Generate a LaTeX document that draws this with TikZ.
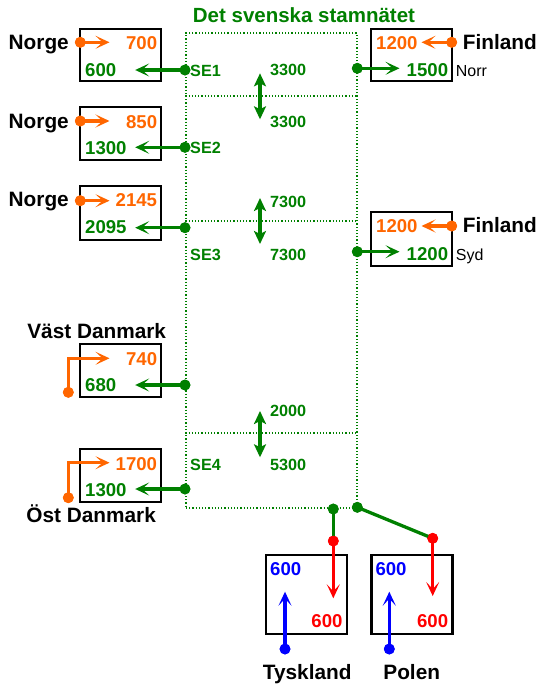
\documentclass[tikz,border=0pt]{standalone}
\usepackage{fontspec}
\setmainfont{Liberation Sans}
\usetikzlibrary{arrows.meta}
\definecolor{or}{RGB}{255,102,0}
\definecolor{gr}{RGB}{0,128,0}
\definecolor{rd}{RGB}{255,0,0}
\definecolor{bl}{RGB}{0,0,255}
\begin{document}
\begin{tikzpicture}[x=1pt,y=-1pt,
  box/.style={draw=black,line width=2.3pt,inner sep=0pt},
  num/.style={font=\fontsize{18.6}{20}\selectfont\bfseries,inner sep=0pt},
  lbl/.style={font=\fontsize{20.8}{22}\selectfont\bfseries,inner sep=0pt,text=black},
  sml/.style={font=\fontsize{16.2}{18}\selectfont\bfseries,inner sep=0pt,text=gr},
  reg/.style={font=\fontsize{16}{18}\selectfont,inner sep=0pt,text=black},
  dotn/.style={circle,fill=#1,inner sep=0pt,minimum size=11pt},
  tip/.style={-{Stealth[length=14pt,width=13pt,inset=7pt]}},
  conn/.style={line width=3.3pt,draw=#1},
  darr/.style={line width=3.3pt,draw=gr,{Stealth[length=13pt,width=12pt,inset=3pt]}-{Stealth[length=13pt,width=12pt,inset=3pt]}}
]
\useasboundingbox (0,0) rectangle (538,686);

% grid
\node[draw=gr,line width=1.2pt,dash pattern=on 1.2pt off 2pt,minimum width=171pt,minimum height=475pt,inner sep=0pt] (grid) at (271.5,270.5) {};
\foreach \yy in {96,221,433}{
  \draw[gr,line width=1.2pt,dash pattern=on 1.2pt off 2pt] (grid.west |- 0,\yy) -- (grid.east |- 0,\yy);
}
\node[font=\fontsize{20.5}{22}\selectfont\bfseries,text=gr,inner sep=0pt,anchor=base] (title) at (304,22.7) {Det svenska stamnätet};

% left boxes
\node[box,minimum width=81pt,minimum height=52pt] (b1) at (120.6,55) {};
\node[box,minimum width=81pt,minimum height=53pt] (b2) at (120.6,133.5) {};
\node[box,minimum width=81pt,minimum height=54pt] (b3) at (120.6,212.8) {};
\node[box,minimum width=81pt,minimum height=53pt] (b4) at (120.6,370.3) {};
\node[box,minimum width=81pt,minimum height=53pt] (b5) at (120.6,475.6) {};
% right boxes
\node[box,minimum width=81pt,minimum height=52pt] (fn) at (411.8,55) {};
\node[box,minimum width=81pt,minimum height=54pt] (fs) at (411.8,239.2) {};
% bottom boxes
\node[box,minimum width=81pt,minimum height=79pt] (ty) at (306.6,594.5) {};
\node[box,minimum width=81pt,minimum height=79pt] (po) at (412,594.5) {};

% labels
\node[lbl,anchor=base east] (no1) at (69,49.3) {Norge};
\node[lbl,anchor=base east] (no2) at (69,128.3) {Norge};
\node[lbl,anchor=base east] (no3) at (69,206.7) {Norge};
\node[lbl,anchor=base] (vdk) at (96.7,338.3) {Väst Danmark};
\node[lbl,anchor=base] (odk) at (91.2,522.3) {Öst Danmark};
\node[lbl,anchor=base west] (fi1) at (462.7,49.3) {Finland};
\node[lbl,anchor=base west] (fi2) at (462.7,232.7) {Finland};
\node[lbl,anchor=base] (tyl) at (307.2,679.3) {Tyskland};
\node[lbl,anchor=base] (pol) at (411.7,679.3) {Polen};
\node[reg,anchor=base west] (norr) at (455.7,76) {Norr};
\node[reg,anchor=base west] (syd) at (455.7,260) {Syd};

% numbers in boxes
\node[num,text=or,anchor=base east] (n700) at (157.3,49) {700};
\node[num,text=gr,anchor=base west] (n600) at (85,76) {600};
\node[num,text=or,anchor=base east] (n850) at (157.3,128.3) {850};
\node[num,text=gr,anchor=base west] (n1300) at (85,154) {1300};
\node[num,text=or,anchor=base east] (n2145) at (157.3,206.7) {2145};
\node[num,text=gr,anchor=base west] (n2095) at (85,233.3) {2095};
\node[num,text=or,anchor=base east] (n740) at (157.3,365) {740};
\node[num,text=gr,anchor=base west] (n680) at (85,391.7) {680};
\node[num,text=or,anchor=base east] (n1700) at (157.3,470) {1700};
\node[num,text=gr,anchor=base west] (n1300b) at (85,496) {1300};
\node[num,text=or,anchor=base west] (f1o) at (376,49.3) {1200};
\node[num,text=gr,anchor=base east] (f1g) at (448.3,76.7) {1500};
\node[num,text=or,anchor=base west] (f2o) at (376,232.7) {1200};
\node[num,text=gr,anchor=base east] (f2g) at (448.3,260) {1200};
\node[num,text=bl,anchor=base west] (tyb) at (270,575) {600};
\node[num,text=rd,anchor=base east] (tyr) at (342.7,627.7) {600};
\node[num,text=bl,anchor=base west] (pob) at (375.3,575) {600};
\node[num,text=rd,anchor=base east] (por) at (448.3,627.7) {600};

% SE labels and flows
\node[sml,anchor=base west] (se1) at (190,76) {SE1};
\node[sml,anchor=base west] (se2) at (190,153.3) {SE2};
\node[sml,anchor=base west] (se3) at (190,260) {SE3};
\node[sml,anchor=base west] (se4) at (190,470.7) {SE4};
\node[sml,anchor=base west] (c1) at (270,75.7) {3300};
\node[sml,anchor=base west] (c2) at (270,127.3) {3300};
\node[sml,anchor=base west] (c3) at (270,207.3) {7300};
\node[sml,anchor=base west] (c4) at (270,260) {7300};
\node[sml,anchor=base west] (c5) at (270,416.7) {2000};
\node[sml,anchor=base west] (c6) at (270,470) {5300};

% double arrows
\coordinate (d1a) at (260,73.3); \coordinate (d1b) at (260,119.3);
\coordinate (d2a) at (260,198); \coordinate (d2b) at (260,244);
\coordinate (d3a) at (260,411); \coordinate (d3b) at (260,457.3);
\draw[darr] (d1a) -- (d1b);
\draw[darr] (d2a) -- (d2b);
\draw[darr] (d3a) -- (d3b);

% tip coordinates
\coordinate (t1) at (109.5,42.3);
\coordinate (t2) at (109.5,121);
\coordinate (t3) at (109.5,200.7);
\coordinate (t4) at (109.5,358.3);
\coordinate (t5) at (109.5,462.7);
\coordinate (g1) at (135.2,70);
\coordinate (g2) at (135.2,147.3);
\coordinate (g3) at (135.2,227.7);
\coordinate (g4) at (135.2,385);
\coordinate (g5) at (135.2,489);
\coordinate (ft1) at (421.5,42.3);
\coordinate (ft2) at (421.5,226);
\coordinate (fg1) at (399.5,68.3);
\coordinate (fg2) at (399.5,251.7);
\coordinate (rt1) at (333.3,598.3);
\coordinate (rt2) at (432.7,596);
\coordinate (bt1) at (285,591.7);
\coordinate (bt2) at (389.3,591.7);

% dots
\node[dotn=or] (o1) at (80.3,42.3) {};
\node[dotn=or] (o2) at (80.3,121) {};
\node[dotn=or] (o3) at (80.3,200.7) {};
\node[dotn=or] (o4) at (68.3,392.3) {};
\node[dotn=or] (o5) at (68.3,497.7) {};
\node[dotn=gr] (s1) at (185,70) {};
\node[dotn=gr] (s2) at (185,147.3) {};
\node[dotn=gr] (s3) at (185,227.7) {};
\node[dotn=gr] (s4) at (185,385) {};
\node[dotn=gr] (s5) at (185,489) {};
\node[dotn=or] (fo1) at (451.7,42.3) {};
\node[dotn=or] (fo2) at (451.7,226) {};
\node[dotn=gr] (fd1) at (357.3,68.3) {};
\node[dotn=gr] (fd2) at (357.3,251.7) {};
\node[dotn=gr] (bg1) at (333.3,509) {};
\node[dotn=gr] (bg2) at (357.3,507.3) {};
\node[dotn=rd] (r1) at (333.3,541) {};
\node[dotn=rd] (r2) at (432.7,538.3) {};
\node[dotn=bl] (u1) at (285,649) {};
\node[dotn=bl] (u2) at (389.3,649) {};

% connectors
\draw[conn=or,tip] (o1.center) -- (t1);
\draw[conn=or,tip] (o2.center) -- (t2);
\draw[conn=or,tip] (o3.center) -- (t3);
\draw[conn=or,tip] (o4.center) |- (t4);
\draw[conn=or,tip] (o5.center) |- (t5);
\draw[conn=gr,tip] (s1.center) -- (g1);
\draw[conn=gr,tip] (s2.center) -- (g2);
\draw[conn=gr,tip] (s3.center) -- (g3);
\draw[conn=gr,tip] (s4.center) -- (g4);
\draw[conn=gr,tip] (s5.center) -- (g5);
\draw[conn=or,tip] (fo1.center) -- (ft1);
\draw[conn=or,tip] (fo2.center) -- (ft2);
\draw[conn=gr,tip] (fd1.center) -- (fg1);
\draw[conn=gr,tip] (fd2.center) -- (fg2);
\draw[conn=gr] (bg1.center) -- (r1.center);
\draw[conn=gr] (bg2.center) -- (r2.center);
\draw[conn=rd,tip] (r1.center) -- (rt1);
\draw[conn=rd,tip] (r2.center) -- (rt2);
\draw[conn=bl,tip] (u1.center) -- (bt1);
\draw[conn=bl,tip] (u2.center) -- (bt2);

% redraw dots on top
\foreach \d/\c in {o1/or,o2/or,o3/or,o4/or,o5/or,s1/gr,s2/gr,s3/gr,s4/gr,s5/gr,fo1/or,fo2/or,fd1/gr,fd2/gr,bg1/gr,bg2/gr,r1/rd,r2/rd,u1/bl,u2/bl}{
  \fill[\c] (\d) circle (5.3pt);
}
\end{tikzpicture}
\end{document}
